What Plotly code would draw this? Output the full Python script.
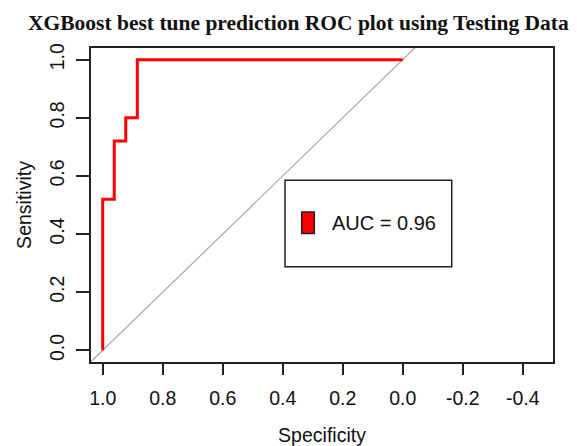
import plotly.graph_objects as go

# ROC curve corner points (specificity, sensitivity)
specificity = [1.0, 1.0, 0.9615, 0.9615, 0.9231, 0.9231, 0.8846, 0.8846, 0.0]
sensitivity = [0.0, 0.52, 0.52, 0.72, 0.72, 0.80, 0.80, 1.0, 1.0]
x_ticks = [1.0, 0.8, 0.6, 0.4, 0.2, 0.0, -0.2, -0.4]
y_ticks = [0.0, 0.2, 0.4, 0.6, 0.8, 1.0]
diag_x = [1.5, -0.5]
diag_y = [-0.5, 1.5]

# AUC from the step curve
auc = 0.0
for i in range(1, len(specificity)):
    auc += (specificity[i - 1] - specificity[i]) * sensitivity[i]
auc_label = "AUC = %.2f" % auc

W, H = 577, 446
L, R, T, B = 91, 553, 47.5, 362

def px(x):
    return (x - L) / (R - L)

def py(y):
    return (B - y) / (B - T)

fig = go.Figure()
fig.add_trace(go.Scatter(x=diag_x, y=diag_y, mode="lines",
                         line=dict(color="#a8a8a8", width=1.2), hoverinfo="skip",
                         showlegend=False))
fig.add_trace(go.Scatter(x=specificity, y=sensitivity, mode="lines",
                         line=dict(color="#ff0000", width=3), showlegend=False))

font_sans = "Liberation Sans, Arial"
axis_common = dict(showgrid=False, zeroline=False, showline=True, mirror=True,
                   linecolor="#222222", linewidth=1.5, ticks="outside",
                   tickcolor="#222222", tickwidth=1.5, automargin=False,
                   tickfont=dict(family=font_sans, size=19.5, color="#111111"))

fig.update_layout(
    width=W, height=H,
    margin=dict(l=L, r=W - R, t=T, b=H - B),
    paper_bgcolor="white", plot_bgcolor="white",
    xaxis=dict(range=[1.039, -0.501], tickvals=x_ticks,
               ticktext=["%.1f" % v for v in x_ticks], ticklen=11,
               ticklabelstandoff=7,
               title=dict(text="Specificity", standoff=27,
                          font=dict(family=font_sans, size=19.5, color="#111111")),
               **axis_common),
    yaxis=dict(range=[-0.04, 1.04], tickvals=y_ticks,
               ticktext=["%.1f" % v for v in y_ticks], ticklen=13, tickangle=-90,
               ticklabelstandoff=4,
               title=dict(text="Sensitivity", standoff=10,
                          font=dict(family=font_sans, size=19.5, color="#111111")),
               **axis_common),
    shapes=[
        dict(type="rect", xref="paper", yref="paper",
             x0=px(285), x1=px(451.7), y0=py(266.7), y1=py(180),
             line=dict(color="#222222", width=1.5), fillcolor="rgba(0,0,0,0)"),
        dict(type="rect", xref="paper", yref="paper",
             x0=px(301.7), x1=px(314.3), y0=py(233.3), y1=py(211.7),
             line=dict(color="#222222", width=1.5), fillcolor="#ff0000"),
    ],
    annotations=[
        dict(text=auc_label, xref="paper", yref="paper", x=px(330), y=py(223),
             xanchor="left", yanchor="middle", showarrow=False,
             font=dict(family=font_sans, size=20, color="#111111")),
        dict(text="<b>XGBoost best tune prediction ROC plot using Testing Data</b>",
             xref="paper", yref="paper", x=px(298), y=py(22),
             xanchor="center", yanchor="middle", showarrow=False,
             font=dict(family="Liberation Serif", size=21.5, color="#111111")),
    ],
)

fig.write_html("out.html", config={"displayModeBar": False},
               post_script="document.body.style.margin='0';")
